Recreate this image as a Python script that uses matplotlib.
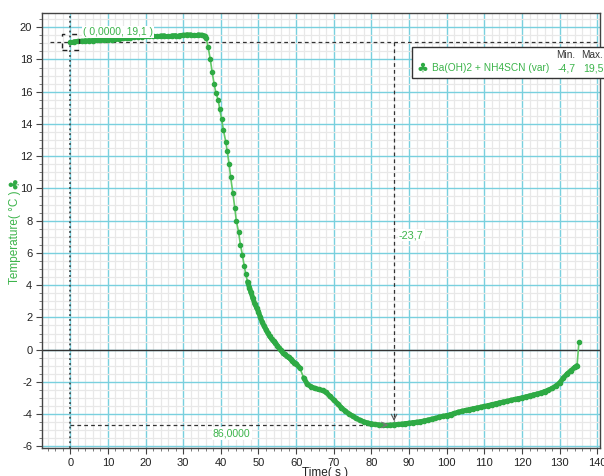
import matplotlib
matplotlib.use("Agg")
import matplotlib.pyplot as plt
from matplotlib.patches import Rectangle
from matplotlib.collections import LineCollection
from matplotlib.ticker import MultipleLocator

plt.rcParams['font.family'] = ['Liberation Sans', 'DejaVu Sans']
plt.rcParams['axes.unicode_minus'] = False

# ---- data ----
time_s = [0, 1, 2, 3, 4, 5, 6, 7, 8, 9, 10, 11, 12, 13, 14, 15, 16, 17, 18, 19,
          20, 21, 22, 23, 24, 25, 26, 27, 28, 29, 30, 31, 32, 33, 34, 35, 35.7, 36.1,
          36.6, 37.2, 37.7, 38.2, 38.7, 39.3, 39.7, 40.2, 40.7, 41.3, 41.7, 42.2, 42.6,
          43.2, 43.7, 44.1, 44.7, 45.2, 45.7, 46.2, 46.6, 47.1, 47.6,
          48.0, 48.5, 49.0, 49.5, 50.0, 50.5, 51.0, 51.5, 52.0, 52.5, 53.0, 53.5, 54.0,
          54.5, 55.0, 55.5, 56.0, 56.5, 57.0, 57.5, 58.0, 58.5, 59.0, 59.5, 60.0,
          61, 62, 63, 64, 65, 66, 67, 68, 69, 70, 71, 72, 73, 74, 75, 76, 77, 78, 79,
          80, 81, 82, 83, 84, 85, 86, 87, 88, 89, 90, 91, 92, 93, 94, 95, 96, 97, 98,
          99, 100, 101, 102, 103, 104, 105, 106, 107, 108, 109, 110, 111, 112, 113,
          114, 115, 116, 117, 118, 119, 120, 121, 122, 123, 124, 125, 126, 127, 128,
          129, 130, 131, 132, 133, 134, 134.6, 135.1]
temp_c = [19.10, 19.10, 19.12, 19.13, 19.15, 19.16, 19.17, 19.18, 19.20, 19.21,
          19.22, 19.23, 19.25, 19.27, 19.30, 19.32, 19.35, 19.37, 19.40, 19.42,
          19.44, 19.45, 19.46, 19.46, 19.46, 19.47, 19.47, 19.47, 19.48, 19.48,
          19.50, 19.52, 19.53, 19.53, 19.53, 19.50, 19.45, 19.30,
          18.8, 18.0, 17.2, 16.5, 15.9, 15.5, 14.9, 14.3, 13.6, 12.9, 12.3, 11.5, 10.7,
          9.7, 8.8, 8.0, 7.3, 6.5, 5.9, 5.2, 4.7, 4.2, 3.85,
          3.55, 3.2, 2.85, 2.6, 2.35, 2.0, 1.7, 1.47, 1.25, 1.03, 0.82, 0.67, 0.53,
          0.40, 0.25, 0.10, -0.05, -0.20, -0.30, -0.40, -0.48, -0.58, -0.70, -0.80, -0.87,
          -1.15, -1.75, -2.15, -2.30, -2.40, -2.47, -2.53, -2.65, -2.90, -3.12, -3.35,
          -3.60, -3.80, -3.98, -4.12, -4.27, -4.38, -4.48, -4.55,
          -4.60, -4.64, -4.67, -4.69, -4.70, -4.68, -4.66, -4.64, -4.62, -4.59, -4.56,
          -4.53, -4.50, -4.47, -4.42, -4.37, -4.31, -4.26, -4.18,
          -4.13, -4.09, -4.03, -3.96, -3.88, -3.82, -3.77, -3.72, -3.67, -3.62, -3.57,
          -3.52, -3.47, -3.41, -3.36,
          -3.30, -3.25, -3.20, -3.14, -3.09, -3.04, -2.99, -2.93, -2.87, -2.81, -2.75,
          -2.69, -2.60, -2.51, -2.40,
          -2.25, -2.06, -1.75, -1.50, -1.30, -1.10, -0.99, 0.45]

series_name = "Ba(OH)2 + NH4SCN (var)"
series_min = "-4,7"
series_max = "19,5"
x_ticks = list(range(0, 141, 10))
y_ticks = list(range(-6, 21, 2))
cursor1 = (0.0, 19.1)
cursor2 = (86.0, -4.7)
delta_label = "-23,7"
delta_t_label = "86,0000"
cursor1_label = "( 0,0000, 19,1 )"

GREEN = '#3cb44b'
DOT_GREEN = '#2eaa44'
LINE_GREEN = '#62c966'
MAJOR = '#79d0de'
MINOR = '#e8e8e8'

fig = plt.figure(figsize=(6.04, 4.76), dpi=100)
ax = fig.add_axes([42/604, 1-448/476, (600-42)/604, (448-12.7)/476])
ax.set_xlim(-7.5, 140.7)
ax.set_ylim(-6.1, 20.9)

ax.xaxis.set_minor_locator(MultipleLocator(2))
ax.yaxis.set_minor_locator(MultipleLocator(0.5))
ax.set_xticks(x_ticks)
ax.set_yticks(y_ticks)
ax.grid(which='minor', color=MINOR, lw=0.9, zorder=0)
ax.grid(which='major', color=MAJOR, lw=1.0, zorder=0.5)
ax.set_axisbelow(True)
ax.tick_params(which='major', length=4, width=0.8, color='#444', labelsize=8, pad=3,
               labelcolor='#222')
ax.tick_params(which='minor', length=2, width=0.6, color='#666')
for s in ax.spines.values():
    s.set_color('#444')
    s.set_linewidth(1.0)

ax.axhline(0, color='#333', lw=1.0, zorder=1)

# cursor lines
ax.axvline(cursor1[0], color='#333', lw=1.1, ls=(0, (1.2, 2)), zorder=2)
ax.plot([-5.5, 140.7], [cursor1[1], cursor1[1]], color='#333', lw=0.9,
        ls=(0, (3, 2.5)), zorder=2)
ax.plot([cursor1[0], cursor2[0]], [cursor2[1] + 0.03, cursor2[1] + 0.03], color='#333',
        lw=0.9, ls=(0, (3, 2.5)), zorder=2)
ax.plot([cursor2[0], cursor2[0]], [cursor1[1], cursor2[1] + 0.3], color='#333', lw=0.9,
        ls=(0, (3, 2.5)), zorder=2)
ax.annotate('', xy=(cursor2[0], cursor2[1] + 0.1), xytext=(cursor2[0], cursor2[1] + 0.6),
            arrowprops=dict(arrowstyle='->', color='#555', lw=0.8), zorder=4)
ax.annotate('', xy=(cursor2[0] - 0.8, cursor2[1] + 0.03), xytext=(cursor2[0] - 3.5, cursor2[1] + 0.03),
            arrowprops=dict(arrowstyle='->', color='#777', lw=0.8), zorder=4)

# data: thin line + dots for every sample
ax.plot(time_s, temp_c, color=LINE_GREEN, lw=1.2, marker='o', markersize=3.0,
        markerfacecolor=DOT_GREEN, markeredgecolor=DOT_GREEN, zorder=3)
# where samples crowd together they merge into a thick band
segs = []
for i in range(len(time_s) - 1):
    if time_s[i + 1] - time_s[i] <= 1.05 and abs(temp_c[i + 1] - temp_c[i]) < 0.4:
        segs.append([(time_s[i], temp_c[i]), (time_s[i + 1], temp_c[i + 1])])
ax.add_collection(LineCollection(segs, colors=DOT_GREEN, linewidths=3.6,
                                 capstyle='round', zorder=3.5))

# small dashed box around cursor 1
ax.add_patch(Rectangle((-2.3, 18.58), 4.5, 1.02, fill=False, ls=(0, (3.5, 5)),
                       lw=1.0, ec='#222', zorder=5))

bb = dict(boxstyle='square,pad=0.1', fc='white', ec='none')
ax.text(3.3, 19.69, cursor1_label, color=GREEN, fontsize=7.4, ha='left', va='center',
        bbox=bb, zorder=6)
ax.text(87.3, 7.1, delta_label, color=GREEN, fontsize=7.8, ha='left', va='center',
        bbox=bb, zorder=6)
ax.text(42.9, -5.2, delta_t_label, color=GREEN, fontsize=7.6, ha='center', va='center',
        bbox=bb, zorder=6)

# legend box
fig.patches.append(Rectangle((412/604, 1-77.7/476), 0.5, 31/476, transform=fig.transFigure,
                             fc='white', ec='#333', lw=1.0, zorder=10))
fig.text(556/604, 1-55/476, "Min.", fontsize=7.2, color='#333', va='center', ha='left', zorder=11)
fig.text(581/604, 1-55/476, "Max.", fontsize=7.2, color='#333', va='center', ha='left', zorder=11)
fig.text(417/604, 1-68.5/476, "\u2663", fontsize=9.5, color=DOT_GREEN, va='center', ha='left',
         family=['DejaVu Sans'], zorder=11)
fig.text(432/604, 1-68.5/476, series_name, fontsize=7.3, color=GREEN, va='center', ha='left', zorder=11)
fig.text(558/604, 1-68.5/476, series_min, fontsize=7.6, color=GREEN, va='center', ha='left', zorder=11)
fig.text(583/604, 1-68.5/476, series_max, fontsize=7.6, color=GREEN, va='center', ha='left', zorder=11)

# axis labels
fig.text(15/604, 1-237/476, "Temperature( \u00b0C )", rotation=90, fontsize=8.5, color=GREEN,
         ha='center', va='center')
fig.text(15/604, 1-183/476, "\u2663", rotation=90, fontsize=10, color=DOT_GREEN,
         ha='center', va='center', family=['DejaVu Sans'])
fig.text(325/604, 1-473/476, "Time( s )", fontsize=8.5, color='#222', ha='center', va='center')

fig.savefig('out.png', dpi=100)
